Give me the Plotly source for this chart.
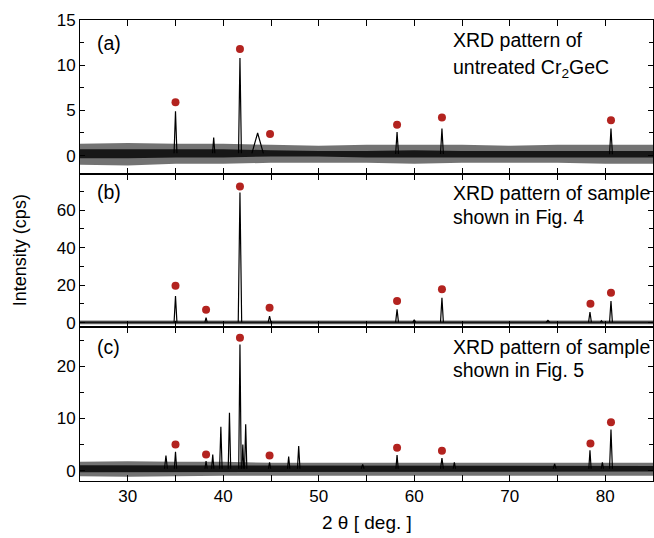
import numpy as np
import plotly.graph_objects as go

# ---------------- data ----------------
# noise envelope grid (2-theta, deg)
env_x = [25, 30, 35, 40, 45, 50, 55, 60, 65, 70, 75, 80, 85]

# panel (a): untreated Cr2GeC
a_fringe_up = [1.3, 1.4, 1.3, 1.3, 1.2, 1.1, 1.2, 1.2, 1.2, 1.1, 1.2, 1.2, 1.2]
a_fringe_lo = [-1.0, -1.1, -0.9, -0.9, -0.8, -0.8, -0.8, -0.9, -0.8, -0.8, -0.8, -0.9, -0.9]
a_core_up = [0.7, 0.7, 0.7, 0.7, 0.6, 0.5, 0.5, 0.6, 0.5, 0.5, 0.5, 0.5, 0.5]
a_core_lo = [-0.3, -0.3, -0.2, -0.2, -0.1, -0.1, -0.2, -0.2, -0.2, -0.2, -0.2, -0.2, -0.2]
a_peak_pos = [35.0, 39.0, 41.75, 43.6, 58.2, 62.9, 80.6]
a_peak_h = [4.9, 2.0, 10.8, 2.5, 2.6, 3.0, 3.0]
a_peak_w = [0.15, 0.12, 0.15, 0.6, 0.15, 0.15, 0.15]
a_dot_x = [35.0, 41.75, 44.9, 58.2, 62.9, 80.6]
a_dot_y = [5.9, 11.8, 2.4, 3.4, 4.2, 3.9]

# panel (b): sample of Fig. 4
b_fringe_up = [1.2] * 13
b_fringe_lo = [-0.9] * 13
b_core_up = [0.6] * 13
b_core_lo = [-0.3] * 13
b_peak_pos = [35.0, 38.2, 41.75, 44.85, 58.2, 60.0, 62.9, 74.0, 78.4, 79.6, 80.6]
b_peak_h = [14.2, 2.7, 69.5, 3.5, 7.1, 1.5, 13.3, 1.2, 5.7, 1.0, 11.5]
b_peak_w = [0.15, 0.12, 0.18, 0.15, 0.15, 0.15, 0.15, 0.2, 0.15, 0.12, 0.15]
b_dot_x = [35.0, 38.2, 41.75, 44.85, 58.2, 62.9, 78.45, 80.6]
b_dot_y = [19.7, 6.9, 72.7, 8.0, 11.5, 17.8, 10.1, 16.0]

# panel (c): sample of Fig. 5
c_fringe_up = [1.7, 1.8, 1.7, 1.7, 1.5, 1.5, 1.5, 1.5, 1.4, 1.4, 1.5, 1.5, 1.5]
c_fringe_lo = [-1.1, -1.2, -1.1, -1.0, -0.9, -0.9, -0.9, -1.0, -0.9, -0.9, -0.9, -1.0, -1.0]
c_core_up = [1.0, 1.0, 1.0, 1.0, 0.9, 0.9, 0.9, 0.9, 0.9, 0.9, 0.9, 0.9, 0.9]
c_core_lo = [-0.3, -0.3, -0.3, -0.3, -0.2, -0.2, -0.2, -0.2, -0.2, -0.2, -0.2, -0.2, -0.2]
c_peak_pos = [34.0, 35.0, 38.2, 38.9, 39.75, 40.65, 41.75, 42.05, 42.35, 44.85,
              46.85, 47.9, 54.6, 58.2, 62.9, 64.2, 74.7, 78.4, 79.7, 80.6]
c_peak_h = [2.9, 3.6, 1.8, 3.1, 8.4, 11.1, 24.2, 5.0, 8.9, 1.6,
            2.7, 4.7, 1.2, 3.0, 2.4, 1.6, 1.3, 3.9, 1.6, 7.9]
c_peak_w = [0.15, 0.12, 0.12, 0.12, 0.13, 0.13, 0.13, 0.1, 0.12, 0.12,
            0.12, 0.13, 0.15, 0.12, 0.15, 0.12, 0.15, 0.12, 0.12, 0.15]
c_dot_x = [35.0, 38.2, 41.75, 44.85, 58.2, 62.9, 78.45, 80.6]
c_dot_y = [5.0, 3.1, 25.5, 2.9, 4.4, 3.8, 5.2, 9.3]

y_ranges = {"a": [-2, 15], "b": [-2.5, 79.5], "c": [-2, 27.5]}

DOT = "#B3231F"
FONT = "Liberation Sans, Arial, sans-serif"

fig = go.Figure()

panels = [
    ("a", "x3", "y3", a_fringe_up, a_fringe_lo, a_core_up, a_core_lo, a_peak_pos, a_peak_h, a_peak_w, a_dot_x, a_dot_y),
    ("b", "x2", "y2", b_fringe_up, b_fringe_lo, b_core_up, b_core_lo, b_peak_pos, b_peak_h, b_peak_w, b_dot_x, b_dot_y),
    ("c", "x", "y", c_fringe_up, c_fringe_lo, c_core_up, c_core_lo, c_peak_pos, c_peak_h, c_peak_w, c_dot_x, c_dot_y),
]

for name, xa, ya, fu, fl, cu, cl, pp, ph, pw, dx, dy in panels:
    # outer (sparse) noise band
    fig.add_trace(go.Scatter(x=env_x + env_x[::-1], y=fu + fl[::-1], xaxis=xa, yaxis=ya,
                             mode="lines", fill="toself", fillcolor="rgba(0,0,0,0.55)",
                             line=dict(width=0), hoverinfo="skip", showlegend=False))
    # inner (dense) noise band
    fig.add_trace(go.Scatter(x=env_x + env_x[::-1], y=cu + cl[::-1], xaxis=xa, yaxis=ya,
                             mode="lines", fill="toself", fillcolor="rgba(0,0,0,0.8)",
                             line=dict(width=0), hoverinfo="skip", showlegend=False))
    # peaks
    px, py = [], []
    for p, h, w in zip(pp, ph, pw):
        base = 0.5 * (np.interp(p, env_x, cu) + np.interp(p, env_x, cl))
        px += [p - w, p, p + w, None]
        py += [base, h, base, None]
    fig.add_trace(go.Scatter(x=px, y=py, xaxis=xa, yaxis=ya, mode="lines",
                             line=dict(color="black", width=1.2), showlegend=False))
    # phase markers
    fig.add_trace(go.Scatter(x=dx, y=dy, xaxis=xa, yaxis=ya, mode="markers",
                             marker=dict(color=DOT, size=8), showlegend=False))

xcommon = dict(range=[25, 85], showgrid=False, zeroline=False, showline=True,
               linecolor="black", linewidth=1, mirror="ticks", ticks="inside",
               ticklen=6, tickwidth=1, tickcolor="black", dtick=10, tick0=0,
               minor=dict(dtick=5, ticks="inside", ticklen=6, tickcolor="black"),
               tickfont=dict(family=FONT, size=17, color="black"))
ycommon = dict(showgrid=False, zeroline=False, showline=True, linecolor="black",
               linewidth=1, mirror="ticks", ticks="inside", ticklen=5, tickwidth=1,
               tickcolor="black", tickfont=dict(family=FONT, size=17, color="black"))

fig.update_layout(
    width=654, height=538,
    margin=dict(l=80, r=1, t=20, b=57),
    paper_bgcolor="white", plot_bgcolor="white",
    font=dict(family=FONT, color="black"),
    xaxis=dict(**xcommon, anchor="y"),
    xaxis2=dict(**xcommon, anchor="y2", matches="x", showticklabels=False),
    xaxis3=dict(**xcommon, anchor="y3", matches="x", showticklabels=False),
    yaxis=dict(**ycommon, domain=[0, 1/3], range=y_ranges["c"], dtick=10, tick0=0,
               minor=dict(dtick=5, ticks="inside", ticklen=4, tickcolor="black")),
    yaxis2=dict(**ycommon, domain=[1/3, 2/3], range=y_ranges["b"], dtick=20, tick0=0,
                minor=dict(dtick=10, ticks="inside", ticklen=4, tickcolor="black")),
    yaxis3=dict(**ycommon, domain=[2/3, 1], range=y_ranges["a"], dtick=5, tick0=0,
                minor=dict(dtick=2.5, ticks="inside", ticklen=4, tickcolor="black")),
)

def ann(text, x, y, size=19.5, **kw):
    fig.add_annotation(text=text, x=x, y=y, xref="paper", yref="paper",
                       showarrow=False, xanchor=kw.get("xanchor", "left"),
                       yanchor="middle", textangle=kw.get("textangle", 0),
                       font=dict(family=FONT, size=size, color="black"))

ann("(a)", 0.027, 0.950)
ann("(b)", 0.027, 0.627)
ann("(c)", 0.027, 0.291)
ann("XRD pattern of", 0.6476, 0.9566)
ann("untreated Cr<sub>2</sub>GeC", 0.6476, 0.895)
ann("XRD pattern of sample", 0.6476, 0.6247)
ann("shown in Fig. 4", 0.6476, 0.5733)
ann("XRD pattern of sample", 0.6476, 0.2913)
ann("shown in Fig. 5", 0.6476, 0.2408)
ann("Intensity (cps)", -0.1045, 0.501, size=18, xanchor="center", textangle=-90)
ann("2 θ [ deg. ]", 0.5, -0.089, size=19, xanchor="center")

fig.write_html("out.html", config={"displayModeBar": False})

# remove the browser's default page margin so the figure sits at the window origin
with open("out.html", "r", encoding="utf-8") as f:
    html = f.read()
html = html.replace("<head>", "<head><style>html,body{margin:0;padding:0;overflow:hidden;}</style>", 1)
with open("out.html", "w", encoding="utf-8") as f:
    f.write(html)
